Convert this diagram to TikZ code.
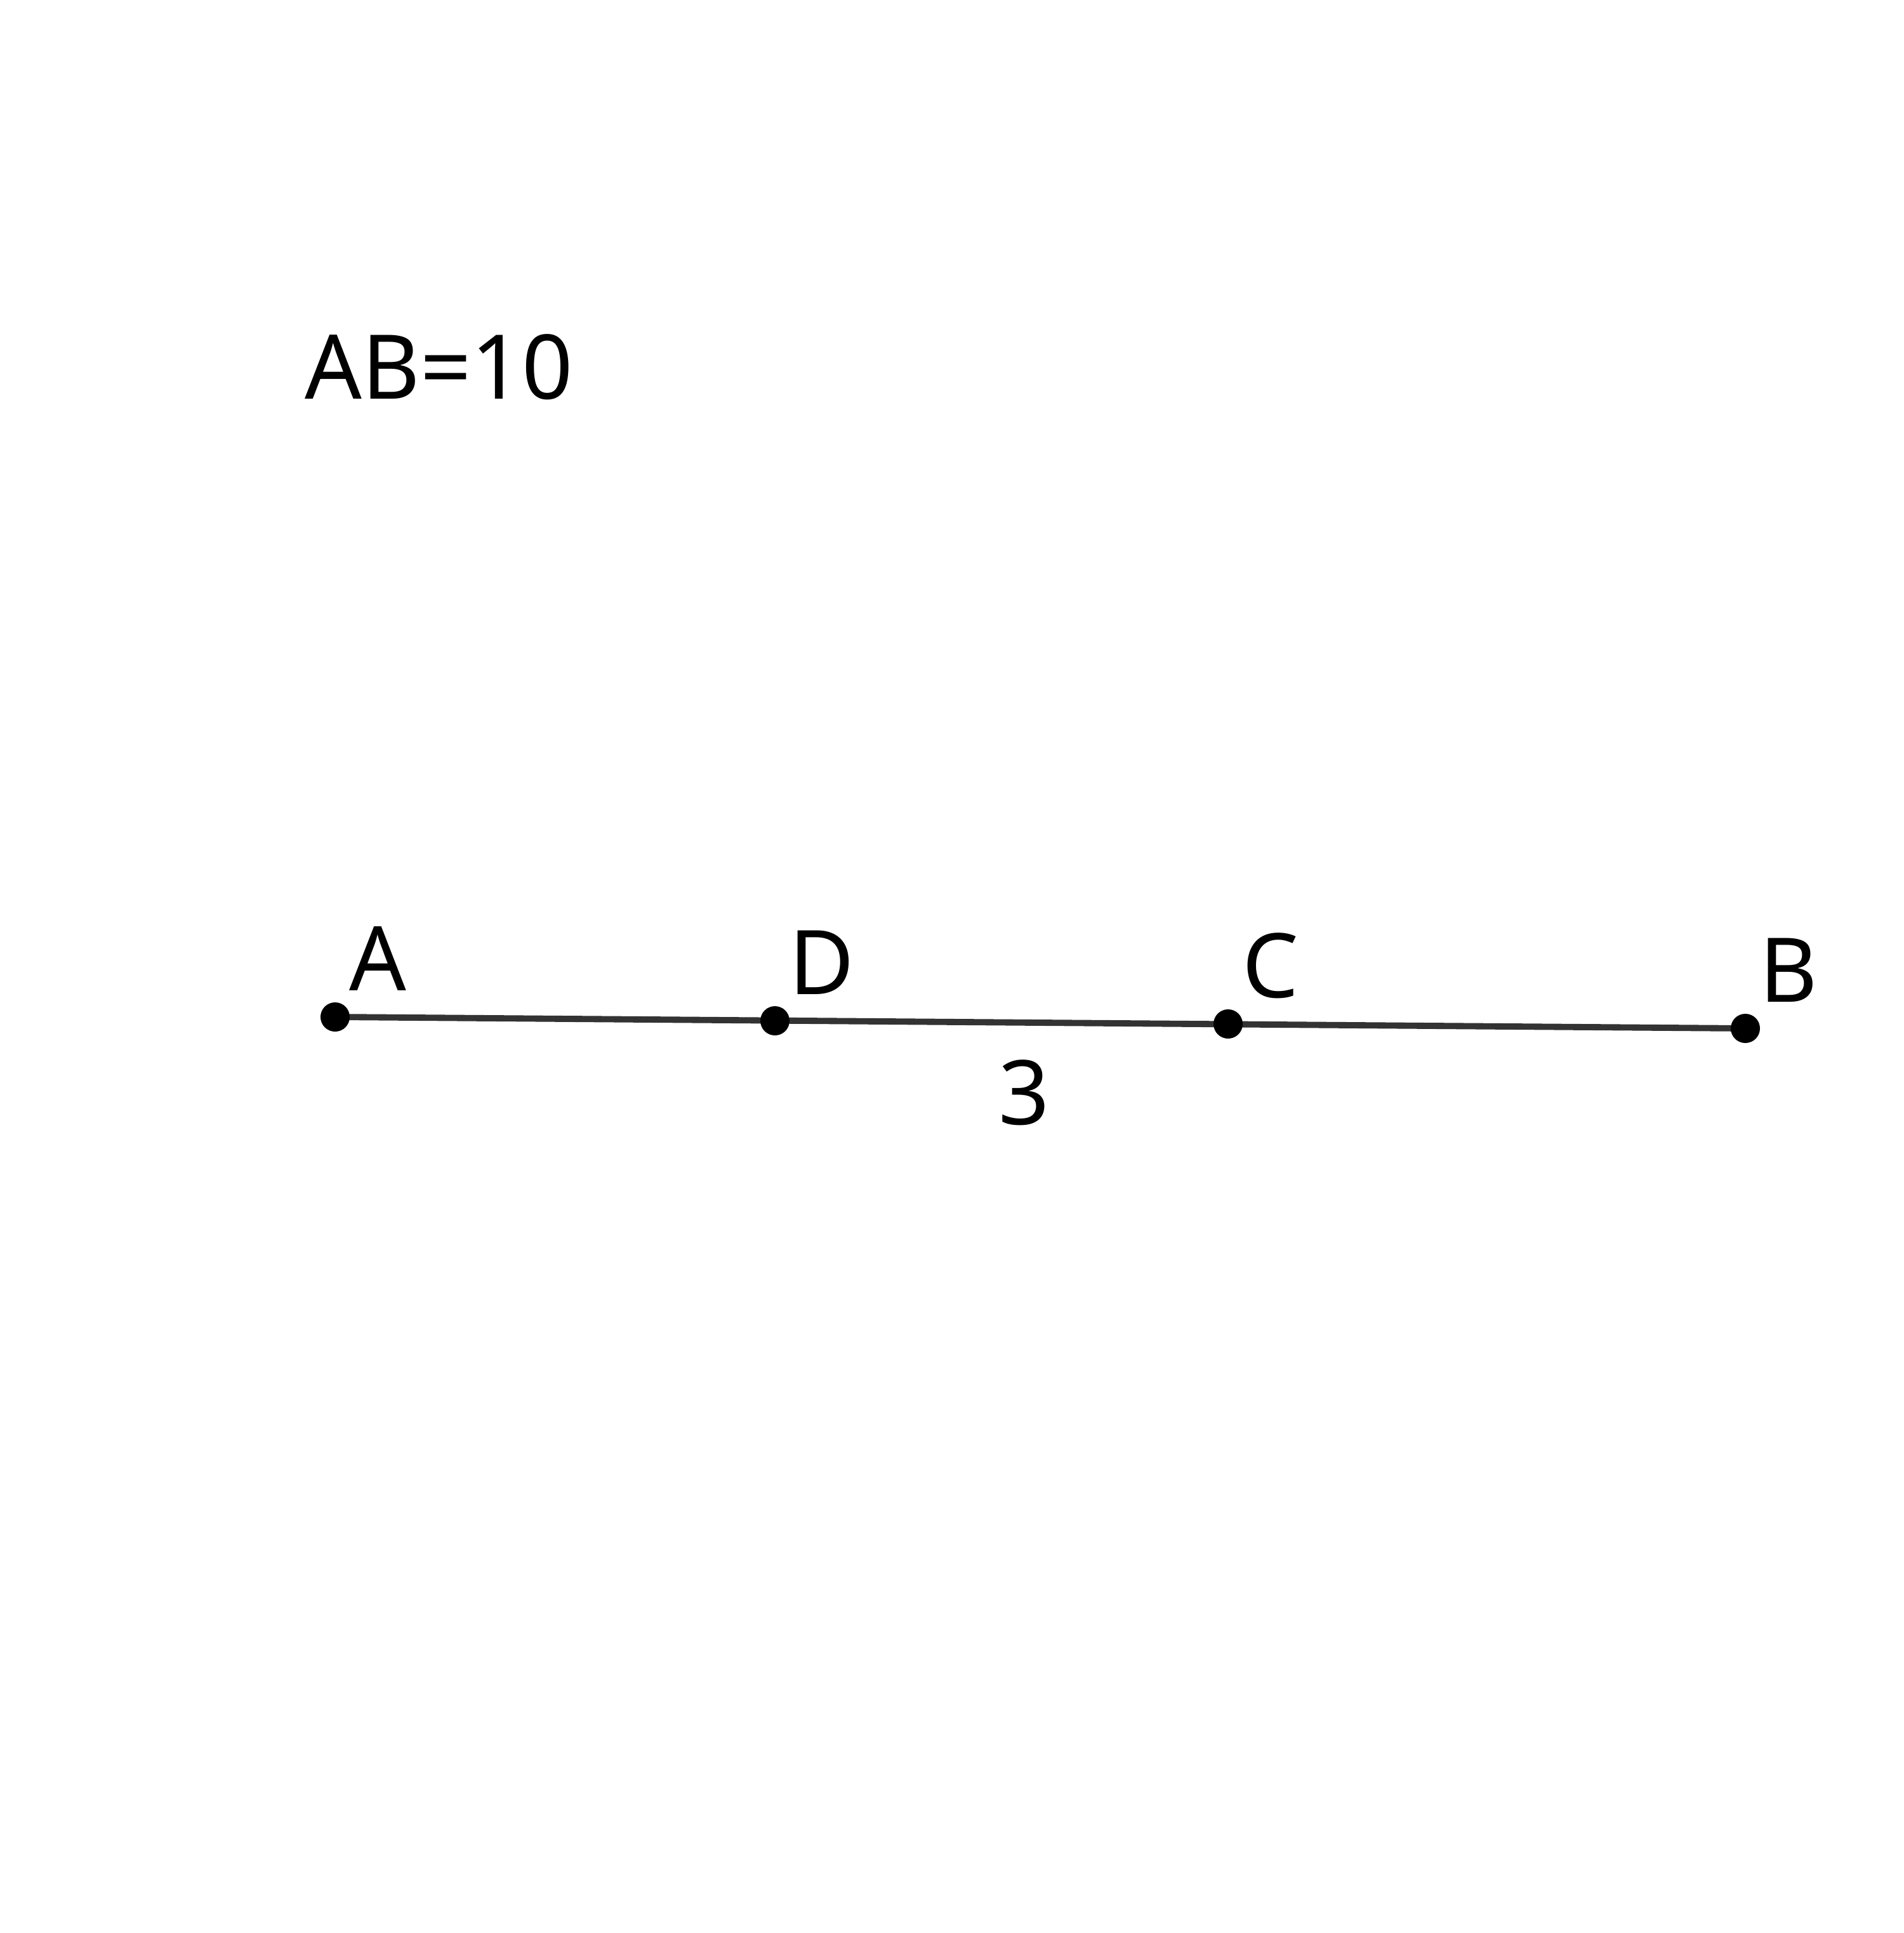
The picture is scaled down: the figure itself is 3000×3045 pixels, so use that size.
\documentclass[tikz,border=0pt]{standalone}
\usepackage{fontspec}
\setmainfont{Noto Sans}

\begin{document}
\begin{tikzpicture}[x=0.01cm,y=-0.01cm,
    dot/.style={circle,fill=black,inner sep=0pt,minimum size=0.46cm},
    lab/.style={anchor=base west,inner sep=0pt,font=\fontsize{40}{48}\selectfont}]

\useasboundingbox (0,0) rectangle (3000,3045);

% Points on the segment
\foreach \n/\x/\y in {A/528/1602,D/1221/1608,C/1935/1613,B/2750/1620}
    \coordinate (\n) at (\x,\y);

% Segment
\draw[line width=2.8pt,black!80] (A) -- (B);

% Dots and their names
\foreach \n in {A,D,C,B}{
    \node[dot] (dot\n) at (\n) {};
    \node[lab] (lab\n) at ([shift={(22,-42)}]\n) {\n};
}

% Length of DC
\node[lab,anchor=base] (lenDC) at (1614,1771) {3};

% Given
\node[lab] (given) at (480,628) {AB=10};

\end{tikzpicture}
\end{document}
